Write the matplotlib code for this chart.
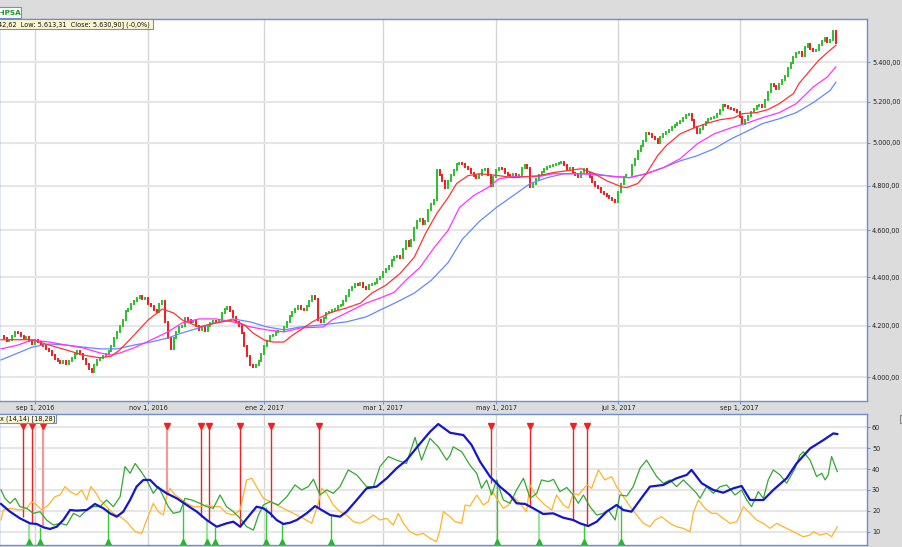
import numpy as np
import matplotlib
matplotlib.use("Agg")
import matplotlib.pyplot as plt
from matplotlib.patches import Rectangle
from matplotlib.ticker import FixedLocator, FuncFormatter, NullLocator

# daily closes of the index, one per trading day (bar index = position)
closes = [
    4160, 4150, 4140, 4145, 4160, 4175, 4170, 4160, 4150, 4155,
    4140, 4130, 4145, 4135, 4125, 4120, 4110, 4100, 4085, 4070,
    4060, 4055, 4060, 4050, 4060, 4075, 4090, 4100, 4090, 4070,
    4050, 4030, 4020, 4045, 4065, 4075, 4080, 4090, 4100, 4120,
    4150, 4175, 4200, 4225, 4260, 4270, 4290, 4300, 4315, 4320,
    4310, 4315, 4290, 4280, 4265, 4255, 4290, 4300, 4215, 4150,
    4110, 4150, 4175, 4195, 4200, 4230, 4225, 4215, 4220, 4200,
    4185, 4195, 4180, 4200, 4210, 4220, 4215, 4225, 4250, 4270,
    4275, 4260, 4235, 4215, 4200, 4170, 4120, 4080, 4045, 4040,
    4045, 4060, 4090, 4120, 4140, 4160, 4165, 4175, 4180, 4180,
    4195, 4215, 4240, 4255, 4270, 4280, 4270, 4265, 4280, 4300,
    4320, 4310, 4225, 4215, 4230, 4250, 4255, 4265, 4270, 4280,
    4285, 4300, 4320, 4345, 4360, 4370, 4365, 4375, 4360, 4350,
    4365, 4370, 4375, 4390, 4400, 4420, 4435, 4445, 4470, 4485,
    4490, 4480, 4520, 4555, 4530, 4560, 4610, 4640, 4650, 4630,
    4640, 4690, 4715, 4735, 4870, 4850, 4820, 4790, 4820, 4850,
    4870, 4900, 4905, 4900, 4885, 4875, 4860, 4845, 4835, 4850,
    4870, 4875, 4850, 4800, 4840, 4870, 4880, 4875, 4860, 4850,
    4845, 4855, 4840, 4850, 4880, 4895, 4880, 4795, 4810, 4830,
    4850, 4865, 4875, 4885, 4890, 4895, 4900, 4905, 4910, 4895,
    4870, 4880, 4860, 4850, 4840, 4865, 4875, 4860, 4840, 4815,
    4800, 4790, 4770, 4760, 4755, 4745, 4735, 4725, 4770, 4810,
    4840, 4850, 4850, 4895, 4925, 4960, 4985, 5010, 5045, 5040,
    5030, 5020, 5000, 5030, 5040, 5050, 5060, 5075, 5085, 5095,
    5105, 5120, 5135, 5140, 5110, 5075, 5045, 5065, 5085, 5100,
    5115, 5120, 5125, 5140, 5160, 5185, 5180, 5170, 5165, 5160,
    5150, 5125, 5090, 5110, 5130, 5150, 5165, 5180, 5185, 5175,
    5210, 5250, 5290, 5280, 5265, 5290, 5310, 5330, 5370, 5395,
    5425, 5445, 5450, 5430, 5480, 5495, 5470, 5455, 5460, 5490,
    5510, 5525, 5505, 5515, 5560, 5500,
]

# moving averages (bar index, level)
ma_red_bar = [0, 11, 17, 23, 29, 35, 39, 42, 47, 52, 57, 61, 64, 70, 76, 82, 86, 89, 93, 96,
              100, 103, 106, 110, 116, 122, 127, 131, 136, 141, 146, 150, 154, 158, 161, 165,
              169, 176, 181, 186, 190, 195, 200, 205, 209, 214, 219, 221, 225, 228, 232, 235,
              240, 245, 249, 254, 259, 262, 267, 271, 275, 280, 282, 286, 289, 293, 295]
ma_red = [4145, 4145, 4124, 4105, 4085, 4074, 4081, 4105, 4163, 4224, 4268, 4252, 4224, 4196,
          4212, 4224, 4204, 4172, 4144, 4136, 4136, 4163, 4185, 4216, 4252, 4272, 4292, 4333,
          4366, 4415, 4483, 4586, 4675, 4746, 4810, 4846, 4855, 4846, 4837, 4842, 4846, 4860,
          4869, 4878, 4860, 4823, 4796, 4791, 4810, 4855, 4939, 4986, 5043, 5072, 5092, 5111,
          5121, 5141, 5146, 5161, 5190, 5240, 5291, 5359, 5410, 5462, 5487]

ma_mag_bar = [0, 6, 11, 17, 23, 29, 35, 39, 42, 47, 53, 59, 64, 70, 76, 82, 88, 94, 100, 106,
              114, 117, 122, 129, 134, 139, 143, 148, 153, 158, 162, 167, 172, 176, 181, 190,
              195, 205, 214, 222, 228, 234, 240, 246, 252, 258, 264, 269, 275, 281, 287, 292, 295]
ma_mag = [4109, 4124, 4144, 4136, 4124, 4113, 4093, 4085, 4093, 4113, 4144, 4176, 4212, 4228,
          4228, 4216, 4196, 4184, 4176, 4192, 4196, 4224, 4252, 4292, 4313, 4337, 4386, 4440,
          4524, 4600, 4701, 4755, 4791, 4832, 4842, 4842, 4855, 4855, 4846, 4837, 4855, 4883,
          4925, 4995, 5043, 5072, 5097, 5121, 5146, 5190, 5273, 5324, 5375]

ma_blue_bar = [0, 6, 11, 17, 23, 29, 35, 41, 47, 53, 59, 64, 70, 76, 82, 88, 94, 100, 106, 114,
               122, 129, 134, 140, 146, 152, 158, 163, 169, 175, 181, 187, 193, 199, 210, 216,
               222, 228, 234, 240, 246, 252, 258, 264, 269, 275, 281, 287, 293, 295]
ma_blue = [4066, 4093, 4116, 4128, 4124, 4116, 4109, 4109, 4124, 4136, 4152, 4172, 4192, 4212,
           4228, 4216, 4196, 4184, 4196, 4205, 4216, 4236, 4264, 4297, 4333, 4386, 4461, 4561,
           4639, 4701, 4755, 4810, 4837, 4855, 4855, 4842, 4837, 4855, 4883, 4915, 4939, 4972,
           5019, 5058, 5092, 5116, 5146, 5195, 5256, 5297]

# ADX panel (bar index, value)
adx_bar = [0, 3.2, 6.7, 10.3, 12.6, 15, 17.3, 19.7, 22, 24.4, 26.7, 30.3, 33.2, 36.2, 38.5,
           40.9, 43.2, 45.6, 47.9, 50.3, 52.7, 55, 58.5, 62.1, 65.6, 69.2, 72.7, 76.2, 79.7,
           82.1, 84.5, 87.4, 90.3, 92.7, 95.1, 97.4, 99.8, 102.1, 104.5, 108, 111, 113.3,
           116.3, 119.8, 122.1, 125.7, 129.2, 132.7, 136.3, 139.8, 143.3, 148.1, 151.6, 154.5,
           158.7, 163.4, 166.3, 169.3, 172.8, 176.3, 179.8, 182.2, 185.2, 188.1, 191.6, 195.1,
           198.7, 202.2, 204.6, 207.5, 210.5, 214, 217.5, 219.9, 222.8, 225.8, 229.3, 234,
           238.7, 242.3, 244, 247.6, 251.7, 255.2, 258.8, 261.7, 264.7, 269.4, 272.9, 277.6,
           281.1, 285.9, 290.6, 294.1, 295.5]
adx_val = [23.3, 19.6, 16.4, 14.0, 13.7, 12.1, 11.3, 12.4, 15.6, 20.4, 20.1, 20.4, 23.3, 21.2,
           18.8, 17.2, 19.6, 25.2, 31.6, 34.8, 34.8, 31.6, 28.4, 26.0, 22.8, 19.6, 15.6, 12.4,
           14.0, 14.8, 12.4, 17.2, 22.0, 21.2, 18.8, 15.6, 13.7, 14.3, 15.6, 18.8, 22.3, 20.4,
           18.0, 17.2, 19.6, 25.2, 30.8, 31.6, 35.6, 40.4, 44.3, 52.3, 57.9, 61.6, 57.4, 56.3,
           51.5, 43.5, 36.4, 31.6, 27.6, 23.6, 23.3, 21.2, 18.5, 18.8, 16.7, 15.6, 14.0, 12.7,
           14.8, 19.6, 22.8, 20.4, 19.6, 25.2, 31.6, 32.4, 35.6, 37.2, 39.6, 33.2, 30.0, 28.7,
           30.8, 31.9, 25.2, 25.2, 30.0, 35.6, 42.7, 49.9, 53.9, 57.1, 56.8]

pdi_bar = [0, 1.4, 3.2, 5, 6.7, 9.1, 11.4, 13.8, 16.1, 18.5, 20.9, 23.2, 25.6, 27.9, 30.3, 32.6,
           35, 37.3, 39.7, 42.1, 43.8, 45.6, 47.4, 49.1, 51.5, 53.8, 55.6, 57.4, 59.1, 60.9,
           63.3, 65, 67.4, 70.3, 72.7, 75, 77.4, 79.7, 82.1, 84.5, 86.8, 89.2, 91, 92.7, 95.1,
           98, 101, 103.9, 106.2, 108.6, 110.4, 112.7, 115.1, 117.4, 119.8, 122.7, 125.7, 129.2,
           131.6, 133.9, 136.9, 139.8, 143.3, 146.3, 148.6, 151.6, 154.5, 157.5, 158.7, 159.8,
           162.8, 165.7, 168.1, 169.8, 171.6, 173.4, 175.1, 177.5, 179.9, 182.2, 184.6, 187,
           189.3, 191, 193.4, 195.2, 197.5, 199.9, 202.2, 204, 205.8, 208.1, 210.5, 212.8,
           214.6, 217, 218.7, 221.1, 223.4, 225.8, 228.1, 229.9, 231.7, 234, 236.4, 238.7,
           241.1, 243.5, 245.8, 247, 249.3, 251.7, 254.1, 256.4, 259.4, 261.7, 263.5, 265.2,
           267.6, 269.4, 271.1, 272.9, 275.3, 277.6, 280.6, 282.3, 283.5, 285.9, 288.2, 290,
           291.2, 292.3, 293.5, 295.5]
pdi_val = [30.0, 26.0, 23.6, 26.0, 22.0, 21.2, 18.8, 19.6, 15.6, 13.2, 14.0, 13.2, 18.8, 17.2,
           20.4, 22.0, 22.0, 25.2, 22.0, 26.8, 41.2, 38.0, 42.7, 39.6, 34.8, 28.4, 31.6, 26.8,
           22.0, 18.8, 19.6, 26.0, 25.2, 23.6, 22.0, 21.2, 27.6, 22.0, 19.6, 16.4, 12.4, 10.8,
           18.0, 22.8, 24.4, 22.8, 26.8, 32.4, 30.0, 31.6, 35.1, 27.6, 30.0, 28.4, 31.6, 39.6,
           37.2, 31.6, 31.6, 41.2, 46.0, 44.3, 42.7, 55.2, 44.3, 54.7, 50.7, 44.3, 46.7, 50.7,
           48.3, 41.9, 38.0, 30.8, 34.8, 27.6, 34.8, 25.2, 23.6, 30.0, 35.6, 26.0, 28.4, 34.8,
           34.0, 35.1, 29.2, 31.2, 27.6, 23.6, 27.6, 22.0, 18.0, 18.8, 20.4, 15.6, 27.6, 27.1,
           31.6, 40.4, 44.3, 40.4, 36.4, 33.2, 34.8, 31.6, 34.8, 31.6, 28.4, 26.0, 31.6, 28.4,
           31.6, 32.4, 27.6, 30.0, 25.2, 22.0, 29.2, 26.0, 34.8, 39.6, 37.2, 33.2, 40.4, 46.7,
           48.3, 44.3, 36.4, 38.0, 34.8, 37.2, 46.0, 38.8]

mdi_bar = [0, 0.8, 3.2, 6.7, 9.1, 10.8, 12.6, 14.4, 16.7, 19.1, 20.9, 22.6, 24.4, 26.7, 28.5,
           30.3, 31.7, 33.2, 35, 37.3, 39.7, 42.1, 44.4, 47.4, 49.7, 51.5, 53.8, 55.6, 57.4,
           58.5, 59.7, 61.5, 63.3, 65.6, 68, 70.3, 72.7, 75, 77.4, 79.7, 82.1, 84.5, 86.8, 88.6,
           90.3, 92.7, 95.1, 97.4, 99.8, 102.1, 104.5, 106.8, 109.8, 112.1, 113.3, 115.1, 117.4,
           119.8, 122.1, 124.5, 126.9, 129.2, 131.6, 133.9, 136.3, 138.6, 140.4, 142.2, 144.5,
           146.9, 149.2, 151.6, 153.9, 155.1, 156.3, 158.7, 160.4, 162.8, 164, 165.7, 168.1,
           170.4, 172.2, 173.4, 175.1, 177.5, 179.3, 181, 183.4, 185.7, 186.9, 189.3, 192.2,
           194.6, 196.3, 198.7, 200.5, 202.2, 204, 207, 208.7, 211.1, 213.4, 215.8, 217.5,
           219.9, 222.3, 224.6, 227, 229.3, 231.1, 233.4, 236.4, 238.7, 241.1, 243.5, 244.6,
           246.4, 248.8, 251.1, 252.9, 255.2, 257.6, 260, 262.3, 264.7, 267, 269.4, 271.7,
           274.1, 276.4, 280, 283.5, 285.9, 287, 289.4, 291.8, 293.5, 295.5]
mdi_val = [15.6, 20.4, 21.2, 20.4, 21.2, 24.4, 22.8, 20.4, 22.8, 26.8, 27.6, 31.6, 29.2, 27.6,
           30.0, 25.2, 31.6, 29.2, 25.2, 22.0, 18.8, 17.2, 14.8, 10.0, 9.2, 15.6, 23.6, 19.6,
           18.0, 26.8, 30.8, 27.6, 26.0, 23.6, 22.0, 22.0, 22.8, 22.0, 22.0, 18.8, 18.0, 20.4,
           34.8, 35.6, 31.6, 26.0, 24.4, 22.8, 21.2, 19.6, 18.0, 16.4, 14.0, 23.6, 30.8, 28.4,
           22.8, 19.6, 18.0, 14.8, 14.0, 15.6, 18.0, 15.6, 16.4, 13.2, 18.8, 14.0, 10.0, 8.4,
           9.2, 6.8, 5.2, 10.8, 19.6, 17.2, 14.8, 14.0, 22.8, 22.3, 27.6, 22.8, 24.4, 30.0,
           26.0, 21.2, 22.8, 26.8, 23.6, 19.6, 32.4, 26.8, 22.8, 20.4, 27.6, 22.8, 21.2, 28.4,
           27.6, 32.4, 30.8, 39.6, 34.8, 36.4, 31.6, 26.8, 22.0, 18.0, 14.0, 12.4, 15.6, 17.2,
           14.0, 12.4, 11.6, 10.0, 18.8, 25.2, 21.2, 18.8, 18.8, 16.4, 14.0, 14.8, 22.0, 18.8,
           15.6, 14.0, 11.6, 14.0, 12.4, 10.0, 7.6, 8.4, 10.0, 8.4, 9.2, 7.6, 12.4]

# signal markers: bar, level where the line stops, faded or not
sell_bar = [7.9, 10.8, 14.7, 58.5, 70.7, 73.6, 84.5, 95.4, 112.5, 173.1, 186.9, 202.1, 207.1]
sell_end = [17.2, 14.0, 12.4, 27.6, 17.2, 14.8, 12.4, 17.2, 22.0, 33.2, 22.0, 15.6, 13.2]
sell_faded = [0, 0, 1, 1, 0, 0, 0, 0, 0, 0, 0, 0, 0]
buy_bar = [10.0, 13.8, 37.7, 64.3, 72.7, 75.6, 93.5, 99.4, 116.5, 175.1, 190.0, 206.1, 219.0]
buy_end = [14.0, 12.4, 21.2, 23.3, 15.6, 12.4, 22.0, 14.0, 18.0, 34.8, 18.8, 13.2, 22.8]
buy_faded = [1, 0, 0, 0, 1, 0, 0, 0, 0, 0, 1, 0, 0]

date_bar = [12, 52, 93, 135, 175, 218, 261]
date_labels = ["sep 1, 2016", "nov 1, 2016", "ene 2, 2017", "mar 1, 2017",
               "may 1, 2017", "jul 3, 2017", "sep 1, 2017"]
price_ticks = [4000, 4200, 4400, 4600, 4800, 5000, 5200, 5400]
adx_ticks = [10, 20, 30, 40, 50, 60]

# ---- layout (pixels) ----
W, H = 902, 547
BG = '#dcdcdc'
BORDER = '#6b8fd0'
FS = 4.7

def box(x0, y0, x1, y1):
    return [x0 / W, 1 - y1 / H, (x1 - x0) / W, (y1 - y0) / H]

fig = plt.figure(figsize=(W / 100, H / 100), dpi=100, facecolor=BG)
ax = fig.add_axes(box(-1, 19, 867, 401))
ax2 = fig.add_axes(box(-1, 414, 867, 545))

px_per_bar = 2.83
xmin = (-1 - 1) / px_per_bar
xmax = (867 - 1) / px_per_bar

def euro(v, pos=None):
    s = f"{v:,.2f}"
    return s.replace(',', 'X').replace('.', ',').replace('X', '.')

for a in (ax, ax2):
    a.set_facecolor('white')
    for s in a.spines.values():
        s.set_color(BORDER)
        s.set_linewidth(1.0)
    a.set_xlim(xmin, xmax)
    a.yaxis.tick_right()
    a.tick_params(axis='y', which='major', direction='out', length=2.2, width=0.7,
                  color=BORDER, labelsize=FS, pad=1.4, labelcolor='#222222')
    a.set_xticks(date_bar)
    a.grid(axis='x', color='#d4d4d4', lw=1.0)
    a.grid(axis='y', color='#e6e6e6', lw=1.5)
    a.set_axisbelow(True)

# price panel
ax.set_yscale('log')
ax.set_ylim(3910, 5626)
ax.yaxis.set_major_locator(FixedLocator(price_ticks))
ax.yaxis.set_major_formatter(FuncFormatter(euro))
ax.yaxis.set_minor_locator(NullLocator())
ax.set_xticklabels(date_labels)
ax.tick_params(axis='x', direction='out', length=2.2, width=0.7, color=BORDER,
               labelsize=FS, pad=0.8, labelcolor='#222222')

c = np.array(closes, dtype=float)
o = np.r_[c[0], c[:-1]]
bars = np.arange(len(c))
up = c >= o
lc = ax.vlines(bars[up], o[up], c[up], colors='#2dbe2d', lw=1.4, zorder=2)
lc.set_capstyle('projecting')
lc = ax.vlines(bars[~up], o[~up], c[~up], colors='#ee1c1c', lw=1.4, zorder=2)
lc.set_capstyle('projecting')

ax.plot(ma_blue_bar, ma_blue, color='#6688ff', lw=0.9, zorder=3)
ax.plot(ma_mag_bar, ma_mag, color='#ff33ff', lw=0.9, zorder=3)
ax.plot(ma_red_bar, ma_red, color='#ff3333', lw=0.9, zorder=3)

# ADX panel
ax2.set_ylim(3.63, 66.4)
ax2.set_yticks(adx_ticks)
ax2.yaxis.set_minor_locator(NullLocator())
ax2.tick_params(axis='x', length=0, labelbottom=False)

for b, e, f in zip(sell_bar, sell_end, sell_faded):
    col = '#f29a9a' if f else '#ee2222'
    ax2.vlines(b, e, 61.0, colors=col, lw=1.6 if f else 1.0, zorder=2)
    ax2.plot(b, 60.8, marker='v', ms=3.8, color='#ee2222', mec='#ee2222', zorder=2)
for b, e, f in zip(buy_bar, buy_end, buy_faded):
    col = '#99e699' if f else '#33cc33'
    ax2.vlines(b, 3.63, e, colors=col, lw=1.6 if f else 1.0, zorder=2)
    ax2.plot(b, 5.3, marker='^', ms=3.8, color='#22bb22', mec='#22bb22', zorder=2)

ax2.plot(mdi_bar, mdi_val, color='#ffb428', lw=0.9, zorder=3)
ax2.plot(pdi_bar, pdi_val, color='#33a833', lw=0.9, zorder=3)
ax2.plot(adx_bar, adx_val, color='#1515cc', lw=1.6, zorder=4)

# header boxes
def fig_rect(x0, y0, x1, y1, fc, ec):
    fig.add_artist(Rectangle((x0 / W, 1 - y1 / H), (x1 - x0) / W, (y1 - y0) / H,
                             transform=fig.transFigure, facecolor=fc, edgecolor=ec, lw=0.8))

fig_rect(-2, 7, 21, 18, 'white', BORDER)
fig.text(0 / W, 1 - 12.8 / H, "-IPSA", fontsize=5.2, fontweight='bold', color='#1a9a1a',
         ha='left', va='center')
fig_rect(-2, 19, 153, 29, '#fbf6cf', BORDER)
fig.text(-2 / W, 1 - 24.2 / H, "42,62  Low: 5.613,31  Close: 5.630,90] (-0,0%)",
         fontsize=FS, color='#111111', ha='left', va='center')
fig_rect(-2, 414, 56, 423, '#fbf6cf', BORDER)
fig.text(0 / W, 1 - 418.7 / H, "x (14,14) [18,28]", fontsize=FS, color='#111111',
         ha='left', va='center')
fig_rect(899.5, 415, 912, 423, 'none', '#8a8a8a')

fig.savefig("out.png", dpi=100, facecolor=BG)
